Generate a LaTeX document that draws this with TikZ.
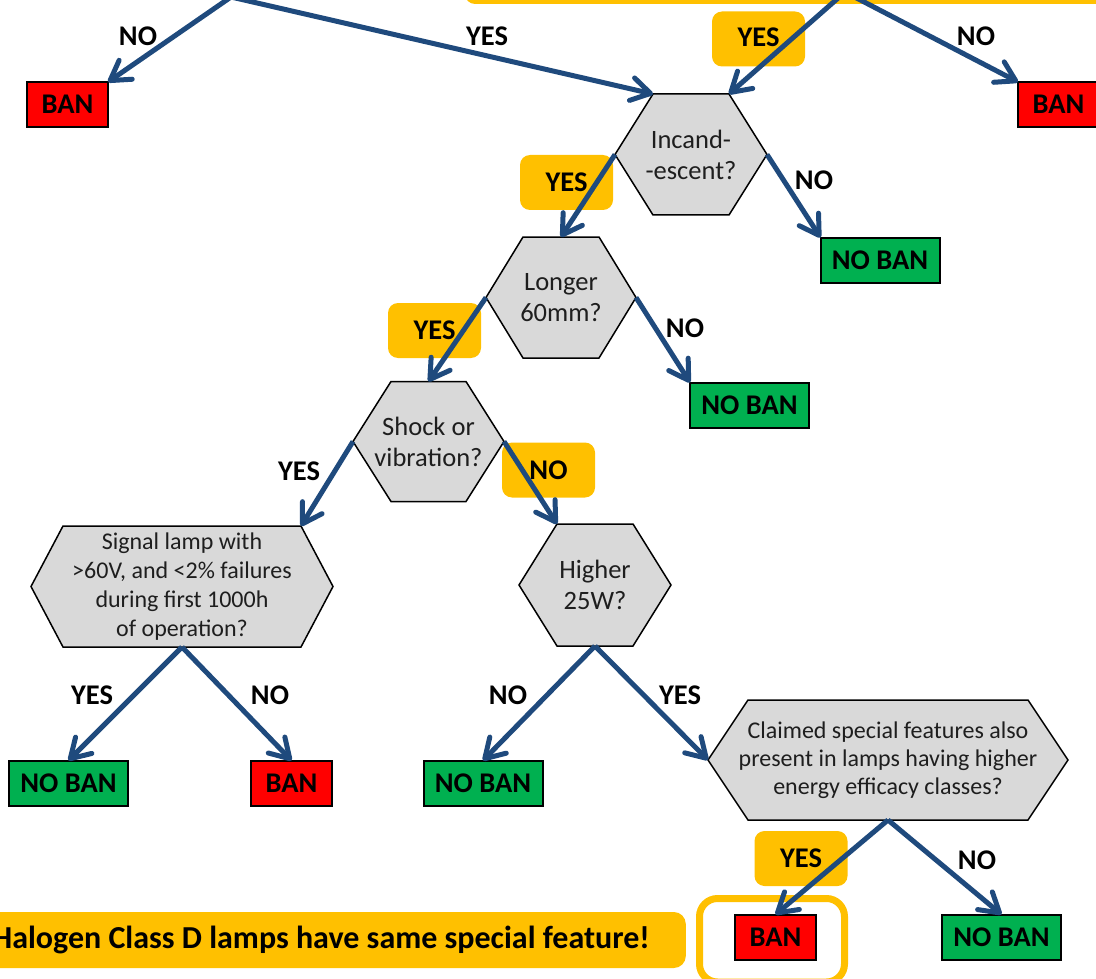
\documentclass[tikz,border=0pt]{standalone}
\usepackage{fontspec}
\setmainfont{Carlito}
\usetikzlibrary{arrows.meta,calc,backgrounds}

\definecolor{flowblue}{HTML}{1F4A7D}
\definecolor{banred}{HTML}{FF0000}
\definecolor{okgreen}{HTML}{00B050}
\definecolor{hlorange}{HTML}{FFC000}
\definecolor{hexgray}{HTML}{D9D9D9}
\definecolor{hextext}{HTML}{1E1E1E}

% decision hexagon: name, x, y, width, height, corner inset, extra options, text
\newcommand\hexq[8]{%
  \node[hexbox, minimum width=#4pt, minimum height=#5pt, #7] (#1) at (#2,#3) {#8};
  \coordinate (#1-tl) at ($(#1.north west)+(#6,0)$);
  \coordinate (#1-tr) at ($(#1.north east)+(-#6,0)$);
  \coordinate (#1-bl) at ($(#1.south west)+(#6,0)$);
  \coordinate (#1-br) at ($(#1.south east)+(-#6,0)$);
  \begin{scope}[on background layer]
    \draw[hexline] (#1.west) -- (#1-tl) -- (#1-tr) -- (#1.east) -- (#1-br) -- (#1-bl) -- cycle;
  \end{scope}}

\begin{document}
\begin{tikzpicture}[x=1pt, y=-1pt,
  boldtxt/.style={font=\fontsize{28.5}{33}\selectfont\bfseries},
  outcome/.style={boldtxt, draw=black, line width=2pt, inner sep=0pt, outer sep=0pt,
    minimum height=45pt, text=black},
  ban/.style={outcome, fill=banred, minimum width=81pt},
  noban/.style={outcome, fill=okgreen, minimum width=119pt},
  hexbox/.style={inner sep=0pt, outer sep=0pt, align=center, text=hextext,
    font=\fontsize{26.5}{31}\selectfont},
  smallq/.style={font=\fontsize{24}{29}\selectfont},
  hexline/.style={fill=hexgray, draw=black, line width=1.5pt, line join=miter},
  lbl/.style={boldtxt, inner sep=0pt},
  lblbox/.style={boldtxt, fill=hlorange, rounded corners=10pt, minimum width=93pt,
    minimum height=55pt, inner sep=0pt},
  flow/.style={draw=flowblue, line width=5pt,
    -{Straight Barb[length=19pt, width=23pt, round]}},
]
\useasboundingbox (0,0) rectangle (1096,979);
\clip (0,0) rectangle (1096,979);

% banner strip along the top
\fill[hlorange, rounded corners=10pt] (465,-60) rectangle (1160,4);

% entry points of the branches coming from above
\coordinate (q1) at (231,-3);
\coordinate (q2) at (845,-8);

% note at the bottom and highlight around the final verdict
\node[boldtxt, font=\fontsize{32}{38}\selectfont\bfseries, fill=hlorange,
  rounded corners=12pt, anchor=east, inner xsep=36pt, inner ysep=0pt,
  minimum height=56pt] (note) at (686,940) {Halogen Class D lamps have same special feature!};
\node[draw=hlorange, line width=7pt, rounded corners=18pt,
  minimum width=145pt, minimum height=83.5pt] (hl) at (772,940.25) {};

% highlighted answer labels
\node[lblbox] (l3) at (758.5,39) {\raisebox{3pt}{YES}};
\node[lblbox] (l5) at (566.5,182.5) {YES};
\node[lblbox] (l7) at (434.5,330.5) {YES};
\node[lblbox] (l10) at (548.5,470) {NO};
\node[lblbox] (l15) at (801,858.5) {YES};

% outcomes
\node[ban] (ban1) at (67.5,104.5) {BAN};
\node[ban] (ban2) at (1058.5,104.5) {BAN};
\node[noban] (nb1) at (880,260) {NO BAN};
\node[noban] (nb2) at (749.5,405) {NO BAN};
\node[noban] (nb3) at (68.5,783) {NO BAN};
\node[ban] (ban3) at (291.5,783) {BAN};
\node[noban] (nb4) at (483,783) {NO BAN};
\node[ban] (ban4) at (775.5,937) {BAN};
\node[noban] (nb5) at (1001.5,937) {NO BAN};

% questions
\hexq{inc}{691}{154.5}{152}{121}{38}{}{Incand-\\-escent?}
\hexq{lon}{561}{297.5}{150}{121}{37}{}{Longer\\60mm?}
\hexq{sho}{428.5}{441.5}{151}{120}{38}{}{Shock or\\vibration?}
\hexq{hig}{595}{585}{152}{122}{38}{}{Higher\\25W?}
\hexq{sig}{182}{586.5}{302}{121}{32}{smallq}{Signal lamp with\\>60V, and <2\% failures\\during first 1000h\\of operation?}
\hexq{cla}{888}{760}{360}{120}{40}{smallq, font=\fontsize{24}{28}\selectfont}{Claimed special features also\\present in lamps having higher\\energy efficacy classes?}

% connectors
\draw[flow] (q1) -- (ban1.north east);
\draw[flow] (q1) -- (inc-tl);
\draw[flow] (q2) -- (inc-tr);
\draw[flow] (q2) -- (ban2.north west);
\draw[flow] (inc.west) -- (lon.north);
\draw[flow] (inc.east) -- (nb1.north west);
\draw[flow] (lon.west) -- (sho.north);
\draw[flow] (lon.east) -- (nb2.north west);
\draw[flow] (sho.west) -- (sig-tr);
\draw[flow] (sho.east) -- (hig-tl);
\draw[flow] (sig.south) -- (nb3.north);
\draw[flow] (sig.south) -- (ban3.north);
\draw[flow] (hig.south) -- (nb4.north);
\draw[flow] (hig.south) -- (cla.west);
\draw[flow] (cla.south) -- (ban4.north);
\draw[flow] (cla.south) -- (nb5.north);

% plain answer labels
\node[lbl] (l1) at (138,36) {NO};
\node[lbl] (l2) at (487,36) {YES};
\node[lbl] (l4) at (976,36) {NO};
\node[lbl] (l6) at (814,180) {NO};
\node[lbl] (l8) at (685,328) {NO};
\node[lbl] (l9) at (299,471) {YES};
\node[lbl] (l11) at (92,695) {YES};
\node[lbl] (l12) at (270,695) {NO};
\node[lbl] (l13) at (508,695) {NO};
\node[lbl] (l14) at (680,695) {YES};
\node[lbl] (l16) at (977,860) {NO};
\end{tikzpicture}
\end{document}
